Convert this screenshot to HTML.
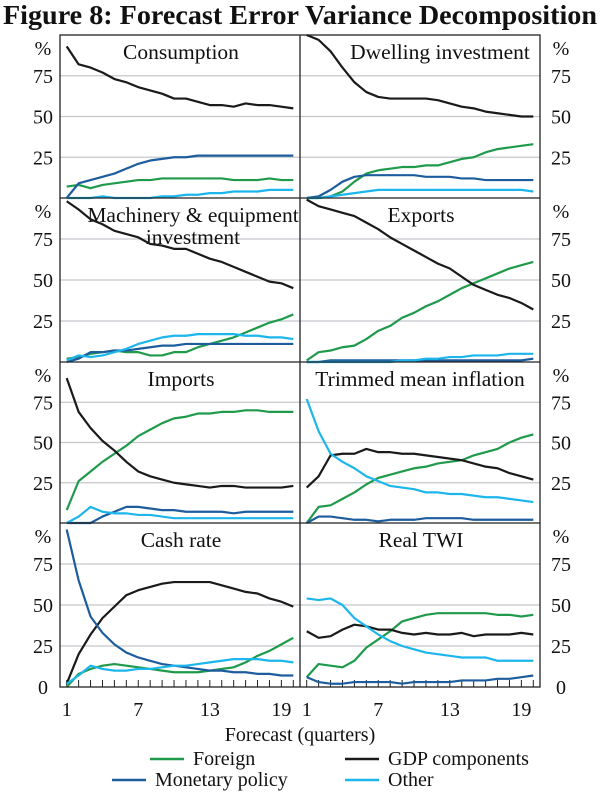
<!DOCTYPE html>
<html><head><meta charset="utf-8"><style>
body{margin:0;background:#fff;width:600px;height:797px;overflow:hidden}
svg{display:block;font-family:"Liberation Serif",serif}
</style></head><body>
<svg id="c" width="600" height="797"></svg>
<script>
const titles=["Consumption","Dwelling investment","Machinery & equipment|investment","Exports","Imports","Trimmed mean inflation","Cash rate","Real TWI"];
const seriesNames=["Foreign","GDP components","Monetary policy","Other"];
const foreign=[
[7,8,6,8,9,10,11,11,12,12,12,12,12,12,11,11,11,12,11,11],
[0,0,1,4,10,15,17,18,19,19,20,20,22,24,25,28,30,31,32,33],
[2,3,5,6,7,6,6,4,4,6,6,9,11,13,15,18,21,24,26,29],
[1,6,7,9,10,14,19,22,27,30,34,37,41,45,48,51,54,57,59,61],
[8,26,32,38,43,48,54,58,62,65,66,68,68,69,69,70,70,69,69,69],
[0,10,11,15,19,24,28,30,32,34,35,37,38,39,42,44,46,50,53,55],
[0,8,11,13,14,13,12,11,10,9,9,9,10,11,12,15,19,22,26,30],
[6,14,13,12,16,24,29,34,40,42,44,45,45,45,45,45,44,44,43,44]];
const gdp=[
[93,82,80,77,73,71,68,66,64,61,61,59,57,57,56,58,57,57,56,55],
[100,97,90,80,71,65,62,61,61,61,61,60,58,56,55,53,52,51,50,50],
[98,93,87,84,80,78,76,72,71,69,69,66,63,61,58,55,52,49,48,45],
[99,95,93,91,89,85,81,76,72,68,64,60,57,52,47,44,41,39,36,32],
[90,69,59,51,45,38,32,29,27,25,24,23,22,23,23,22,22,22,22,23],
[22,29,42,43,43,46,44,44,43,43,42,41,40,39,37,35,34,31,29,27],
[2,20,32,42,49,56,59,61,63,64,64,64,64,62,60,58,57,54,52,49],
[34,30,31,35,38,37,35,35,33,32,33,32,32,33,31,32,32,32,33,32]];
const monetary=[
[0,9,11,13,15,18,21,23,24,25,25,26,26,26,26,26,26,26,26,26],
[0,1,5,10,13,14,14,14,14,14,13,13,13,12,12,11,11,11,11,11],
[0,2,6,6,7,7,8,9,10,10,11,11,11,11,11,11,11,11,11,11],
[0,0,1,1,1,1,1,1,1,1,1,1,1,1,1,1,1,1,1,2],
[0,0,0,4,7,10,10,9,8,8,7,7,7,7,6,7,7,7,7,7],
[0,4,4,3,2,2,1,2,2,2,3,3,3,3,2,2,2,2,2,2],
[96,65,43,33,26,21,18,16,14,13,12,11,10,10,9,9,8,8,7,7],
[6,3,2,2,3,3,3,3,2,3,3,3,3,4,4,4,5,5,6,7]];
const other=[
[0,0,0,1,0,0,0,0,1,1,2,2,3,3,4,4,4,5,5,5],
[0,0,1,2,3,4,5,5,5,5,5,5,5,5,5,5,5,5,5,4],
[1,4,3,4,6,8,11,13,15,16,16,17,17,17,17,16,16,15,15,14],
[0,0,0,0,0,0,0,0,1,1,2,2,3,3,4,4,4,5,5,5],
[0,4,10,7,6,6,5,5,4,3,3,3,3,3,3,3,3,3,3,3],
[77,57,43,38,34,29,26,23,22,21,19,19,18,18,17,16,16,15,14,13],
[2,7,13,11,10,10,11,11,12,13,13,14,15,16,17,17,17,16,16,15],
[54,53,54,50,42,37,32,28,25,23,21,20,19,18,18,18,16,16,16,16]];
const yTicks=[25,50,75];
const xTickLabels=[1,7,13,19];
const colors=["#1f9a4b","#1a1a1a","#1d5d9e","#1cb6ec"];
const NS="http://www.w3.org/2000/svg";
const svg=document.getElementById('c');
function mk(t,a,p){const e=document.createElementNS(NS,t);for(const k in a)e.setAttribute(k,a[k]);(p||svg).appendChild(e);return e;}
const tt=mk('text',{x:300,y:24,'text-anchor':'middle','font-size':'27.5','font-weight':'bold',fill:'#111',textLength:594,lengthAdjust:'spacingAndGlyphs'});
tt.textContent="Figure 8: Forecast Error Variance Decomposition";


const rowsY=[35,198,362,523,687];
const colsX=[60,300,540];
for(let i=0;i<8;i++){
 const r=Math.floor(i/2),c=i%2;
 const x0=colsX[c],x1=colsX[c+1],yTop=rowsY[r],yB=rowsY[r+1];
 const xs=k=>x0+6.7+k*(x1-x0-13.4)/19;
 const ys=v=>yB-v*(yB-yTop)/100;
 const g=mk('g',{});
 
 
 yTicks.forEach(t=>{mk('line',{x1:x0,x2:x1,y1:ys(t),y2:ys(t),stroke:'#c4c8cc','stroke-width':1.2},g);});
 const ax=c===0?43:561;
 yTicks.forEach(t=>{const l=mk('text',{x:ax,y:ys(t)+7,'text-anchor':'middle','font-size':'20',fill:'#111'},g);l.textContent=t;});
 const p=mk('text',{x:ax,y:yTop+20,'text-anchor':'middle','font-size':'20',fill:'#111'},g);p.textContent='%';
 if(r===3){const z=mk('text',{x:ax,y:yB+7,'text-anchor':'middle','font-size':'20',fill:'#111'},g);z.textContent='0';
  for(let k=0;k<20;k++)mk('line',{x1:xs(k),x2:xs(k),y1:yB,y2:yB-7,stroke:'#222','stroke-width':1},g);}
 const parts=titles[i].split('|');
 const tx=c===0?181:(i===1?440:(i===5?420:421));
 parts.forEach((s,j)=>{const l=mk('text',{x:i===2?193:tx,y:yTop+24+j*22,'text-anchor':'middle','font-size':'21.5',fill:'#111'},g);l.textContent=s;});
 [foreign,gdp,monetary,other].forEach((d,si)=>{
  const pl=mk('polyline',{points:d[i].map((v,k)=>xs(k)+','+ys(v)).join(' '),fill:'none',stroke:colors[si],'stroke-width':2.2,'stroke-linejoin':'round'},g);
  
  
 });
}
mk('rect',{x:60,y:35,width:480,height:652,fill:'none',stroke:'#222','stroke-width':1.3});
mk('line',{x1:300,x2:300,y1:35,y2:687,stroke:'#222','stroke-width':1.3});
[198,362,523].forEach(y=>mk('line',{x1:60,x2:540,y1:y,y2:y,stroke:'#222','stroke-width':1.3}));
[[60,300],[300,540]].forEach(([a,b])=>{
 xTickLabels.forEach(t=>{const l=mk('text',{x:a+6.7+(t-1)*(b-a-13.4)/19,y:716,'text-anchor':'middle','font-size':'20',fill:'#111'});l.textContent=t;});
});
const xt=mk('text',{x:300,y:741,'text-anchor':'middle','font-size':'20',fill:'#111'});xt.textContent="Forecast (quarters)";


const leg=[[0,150,765],[1,345,765],[2,112,786],[3,345,786]];
leg.forEach(([s,x,y])=>{
 const g=mk('g',{});
 
 
 mk('line',{x1:x,x2:x+34,y1:y-6,y2:y-6,stroke:colors[s],'stroke-width':2.5},g);
 const l=mk('text',{x:x+43,y:y,'font-size':'20',fill:'#111'},g);l.textContent=seriesNames[s];
});
</script>
</body></html>
